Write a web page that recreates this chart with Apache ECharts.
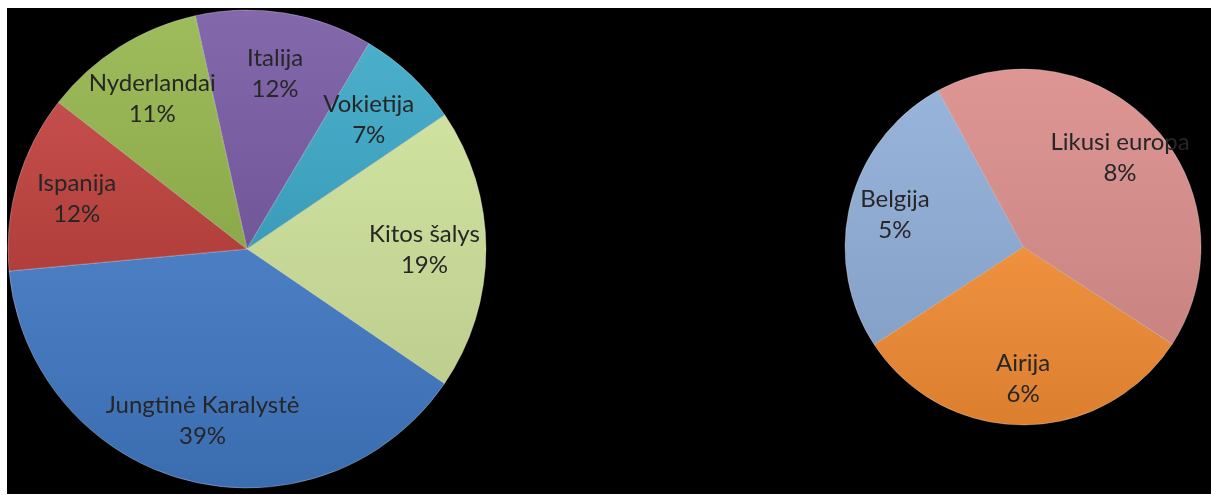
<!DOCTYPE html>
<html>
<head>
<meta charset="utf-8">
<script src="https://cdn.jsdelivr.net/npm/echarts@6/dist/echarts.min.js"></script>
<style>
html,body{margin:0;padding:0;background:#fff;width:1211px;height:495px;overflow:hidden;}
#chart{position:absolute;left:7px;top:8px;width:1204px;height:486px;background:#000;}
</style>
</head>
<body>
<div id="chart"></div>
<script>
// Main pie (clockwise from the Nyderlandai/Italija boundary)
const mainNames  = ['Italija', 'Vokietija', 'Kitos šalys', 'Jungtinė Karalystė', 'Ispanija', 'Nyderlandai'];
const mainValues = [12, 7, 19, 39, 12, 11];
const mainColors = ['#7B5EA6', '#3FAAC8', '#CDE09A', '#3F76BF', '#C0433F', '#98B850'];

// Secondary pie (breakdown of "Kitos šalys")
const subNames  = ['Likusi europa', 'Airija', 'Belgija'];
const subValues = [8, 6, 5];
const subColors = ['#DB8F8D', '#EE8A33', '#92AFD8'];

function shade(hex, f) {
  const n = parseInt(hex.slice(1), 16);
  let r = (n >> 16) & 255, g = (n >> 8) & 255, b = n & 255;
  const m = v => Math.max(0, Math.min(255, Math.round(f >= 0 ? v + (255 - v) * f : v * (1 + f))));
  return 'rgb(' + m(r) + ',' + m(g) + ',' + m(b) + ')';
}
function grad(c) {
  return {
    type: 'linear', x: 0, y: 0, x2: 0, y2: 1,
    colorStops: [
      { offset: 0, color: shade(c, 0.06) },
      { offset: 1, color: shade(c, -0.08) }
    ]
  };
}
function items(names, values, colors) {
  return names.map((n, i) => ({ name: n, value: values[i], itemStyle: { color: grad(colors[i]) } }));
}
function labelItems(names, values) {
  return names.map((n, i) => ({ name: n, value: values[i] }));
}

const labelStyle = {
  show: true,
  position: 'inside',
  formatter: '{b}\n{c}%',
  color: '#262626',
  fontFamily: 'Lato, "Open Sans", sans-serif',
  fontSize: 24,
  lineHeight: 31
};

const LC = [240, 241], LR = 239;
const RC = [1016, 239], RR = 178;

const chart = echarts.init(document.getElementById('chart'), null, { renderer: 'canvas' });
chart.setOption({
  backgroundColor: '#000',
  animation: false,
  series: [
    {
      type: 'pie', center: LC, radius: [0, LR], startAngle: 102.5, clockwise: true,
      label: { show: false }, labelLine: { show: false }, silent: true,
      itemStyle: { borderColor: 'rgba(255,255,255,0.28)', borderWidth: 1 },
      data: items(mainNames, mainValues, mainColors)
    },
    {
      type: 'pie', center: LC, radius: [LR * 0.46, LR], startAngle: 102.5, clockwise: true,
      silent: true, labelLine: { show: false },
      itemStyle: { color: 'rgba(0,0,0,0)', borderWidth: 0 },
      label: labelStyle,
      data: labelItems(mainNames, mainValues)
    },
    {
      type: 'pie', center: RC, radius: [0, RR], startAngle: 118.5, clockwise: true,
      label: { show: false }, labelLine: { show: false }, silent: true,
      itemStyle: { borderColor: 'rgba(255,255,255,0.28)', borderWidth: 1 },
      data: items(subNames, subValues, subColors)
    },
    {
      type: 'pie', center: RC, radius: [RR * 0.45, RR], startAngle: 118.5, clockwise: true,
      silent: true, labelLine: { show: false },
      itemStyle: { color: 'rgba(0,0,0,0)', borderWidth: 0 },
      label: labelStyle,
      data: labelItems(subNames, subValues)
    }
  ]
});
</script>
</body>
</html>
